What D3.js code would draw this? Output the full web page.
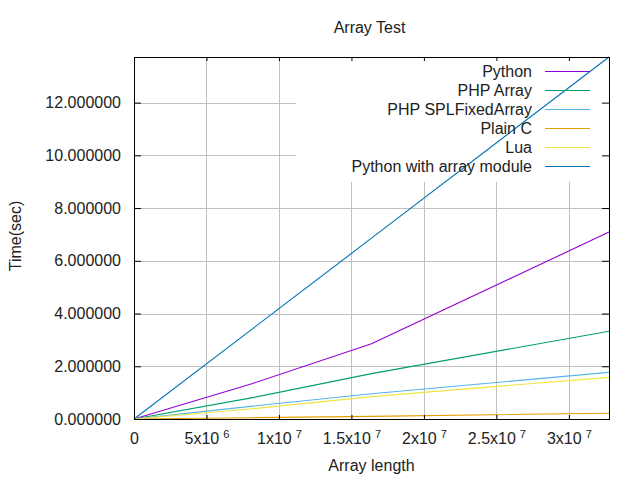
<!DOCTYPE html>
<html><head><meta charset="utf-8">
<script src="https://cdn.jsdelivr.net/npm/d3@7"></script>
<style>
body{margin:0;background:#fff}
svg{display:block}
text{font-family:"Liberation Sans",Arial,sans-serif;fill:#222;}
</style>
</head><body><svg id="c" width="640" height="480"></svg>
<script>
// ---- data ----
const arrayLengths = [0, 8192000, 16384000, 32768000];
const seriesNames = ["Python", "PHP Array", "PHP SPLFixedArray", "Plain C", "Lua", "Python with array module"];
const python = [0, 1.35, 2.85, 7.09];
const phpArray = [0, 0.81, 1.72, 3.33];
const phpSplFixedArray = [0, 0.49, 0.96, 1.77];
const plainC = [0, 0.05, 0.10, 0.22];
const lua = [0, 0.39, 0.85, 1.58];
const pythonArrayModule = [0, 3.43, 6.86, 13.73];
const xTicks = [0, 5e6, 1e7, 1.5e7, 2e7, 2.5e7, 3e7];
const yTicks = [0, 2, 4, 6, 8, 10, 12];
const titleText = "Array Test";
const xLabel = "Array length";
const yLabel = "Time(sec)";
const colors = ["#9400d3", "#009e73", "#56b4e9", "#e69f00", "#f0e442", "#0072b2"];

const seriesValues = [python, phpArray, phpSplFixedArray, plainC, lua, pythonArrayModule];
const series = seriesNames.map((name, i) => ({
  name, color: colors[i],
  points: arrayLengths.map((x, j) => ({x, y: seriesValues[i][j]}))
}));

// ---- layout ----
const L = 134, R = 609, T = 57, B = 419;
const svg = d3.select("#c");
const x = d3.scaleLinear().domain([0, d3.max(arrayLengths)]).range([L, R]);
const y = d3.scaleLinear().domain([0, d3.max(seriesValues.flat())]).range([B, T]);

// grid
const grid = svg.append("g").attr("stroke", "#c0c0c0").attr("stroke-width", 1);
grid.selectAll(".gx").data(xTicks.filter(d => d > 0)).join("line")
  .attr("x1", d => Math.round(x(d)) + 0.5).attr("x2", d => Math.round(x(d)) + 0.5)
  .attr("y1", T).attr("y2", B);
grid.selectAll(".gy").data(yTicks.filter(d => d > 0)).join("line")
  .attr("y1", d => Math.round(y(d)) + 0.5).attr("y2", d => Math.round(y(d)) + 0.5)
  .attr("x1", L).attr("x2", R);

// opaque key box
svg.append("rect").attr("x", 296).attr("y", T).attr("width", R - 296).attr("height", 182 - T).attr("fill", "#fff");

// data lines
const line = d3.line().x(d => x(d.x)).y(d => y(d.y));
svg.append("g").selectAll("path").data(series).join("path")
  .attr("d", d => line(d.points))
  .attr("fill", "none").attr("stroke", d => d.color).attr("stroke-width", 1.1);

// axes (ticks inward, mirrored)
function styleAxis(g) {
  g.select(".domain").remove();
  g.selectAll(".tick line").attr("stroke", "#000");
}
const fmtX = v => {
  if (v === 0) return {m: "0", e: null};
  const e = Math.floor(Math.log10(v));
  const m = +(v / Math.pow(10, e)).toFixed(2);
  return {m: m + "x10", e: e};
};
const gx = svg.append("g").attr("transform", `translate(0,${B})`)
  .call(d3.axisBottom(x).tickValues(xTicks).tickSizeInner(-4).tickSizeOuter(0).tickPadding(0))
  .call(styleAxis);
gx.selectAll(".tick text").attr("y", 25).attr("dy", null).attr("font-size", 16).attr("fill", "#222")
  .each(function(d) {
    const t = d3.select(this); t.text(null);
    const f = fmtX(d);
    t.append("tspan").text(f.m);
    if (f.e !== null) t.append("tspan").attr("dx", 4).attr("dy", -6).attr("font-size", 11).text(f.e);
  });
svg.append("g").attr("transform", `translate(0,${T})`)
  .call(d3.axisTop(x).tickValues(xTicks).tickSizeInner(-4).tickSizeOuter(0).tickFormat(""))
  .call(styleAxis);
const gy = svg.append("g").attr("transform", `translate(${L},0)`)
  .call(d3.axisLeft(y).tickValues(yTicks).tickSizeInner(-7).tickSizeOuter(0).tickPadding(13).tickFormat(d3.format(".6f")))
  .call(styleAxis);
gy.selectAll(".tick text").attr("font-size", 16).attr("fill", "#222");
svg.append("g").attr("transform", `translate(${R},0)`)
  .call(d3.axisRight(y).tickValues(yTicks).tickSizeInner(-7).tickSizeOuter(0).tickFormat(""))
  .call(styleAxis);

// border
svg.append("rect").attr("x", L + 0.5).attr("y", T + 0.5).attr("width", R - L).attr("height", B - T)
  .attr("fill", "none").attr("stroke", "#000").attr("stroke-width", 1);

// labels
svg.append("text").attr("x", (L + R) / 2 - 2).attr("y", 33).attr("text-anchor", "middle").attr("font-size", 16).text(titleText);
svg.append("text").attr("x", (L + R) / 2).attr("y", 471).attr("text-anchor", "middle").attr("font-size", 16).text(xLabel);
svg.append("text").attr("transform", "translate(21,236) rotate(-90)").attr("text-anchor", "middle").attr("font-size", 16).text(yLabel);

// legend
const lg = svg.append("g").selectAll("g").data(series).join("g")
  .attr("transform", (d, i) => `translate(0,${71 + 19 * i})`);
lg.append("text").attr("x", 532).attr("y", 5.5).attr("text-anchor", "end").attr("font-size", 16).text(d => d.name);
lg.append("line").attr("x1", 545).attr("x2", 590).attr("y1", 0.5).attr("y2", 0.5)
  .attr("stroke", d => d.color).attr("stroke-width", 1.1);
</script>
</body></html>
